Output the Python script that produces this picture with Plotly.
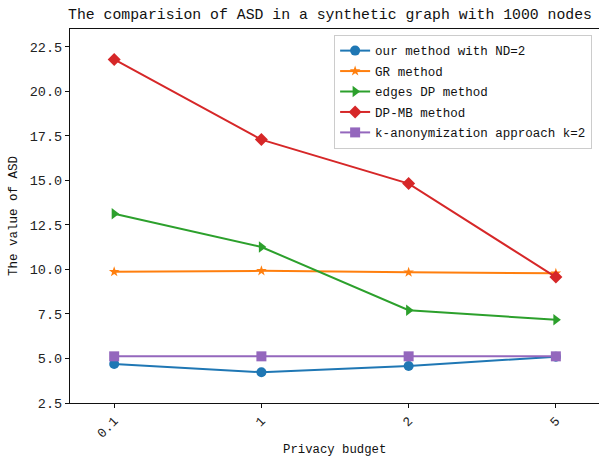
import plotly.graph_objects as go

# Privacy budgets on the x axis (categorical)
budgets = ["0.1", "1", "2", "5"]

# ASD values per method
ours_nd2 = [4.69, 4.23, 4.58, 5.10]
gr_method = [9.87, 9.92, 9.84, 9.78]
edges_dp = [13.13, 11.26, 7.71, 7.17]
dp_mb = [21.79, 17.29, 14.82, 9.57]
k_anon = [5.12, 5.12, 5.12, 5.12]

y_ticks = [2.5, 5.0, 7.5, 10.0, 12.5, 15.0, 17.5, 20.0, 22.5]
y_tick_text = ["2.5", "5.0", "7.5", "10.0", "12.5", "15.0", "17.5", "20.0", "22.5"]

MONO = "Liberation Mono, DejaVu Sans Mono, monospace"

series = [
    ("our method with ND=2", ours_nd2, "#1f77b4", "circle", 10),
    ("GR method", gr_method, "#ff7f0e", "star", 8),
    ("edges DP method", edges_dp, "#2ca02c", "triangle-right", 10),
    ("DP-MB method", dp_mb, "#d62728", "diamond", 10),
    ("k-anonymization approach k=2", k_anon, "#9467bd", "square", 10),
]

fig = go.Figure()
for i, (name, vals, color, sym, size) in enumerate(series):
    fig.add_trace(go.Scatter(
        x=budgets, y=vals, name=name, mode="lines+markers",
        legendgroup=f"g{i}",
        line=dict(color=color, width=2),
        marker=dict(symbol=sym, size=size, color=color),
    ))

fig.update_layout(
    width=599, height=461,
    margin=dict(l=70, r=0, t=29, b=58),
    plot_bgcolor="white", paper_bgcolor="white",
    font=dict(family=MONO, size=13, color="#222"),
    title=dict(
        text="The comparision of ASD in a synthetic graph with 1000 nodes",
        x=330 / 599, xanchor="center", y=1 - 14 / 461, yanchor="middle",
        font=dict(family=MONO, size=14.8, color="#111"),
    ),
    xaxis=dict(
        type="category", range=[-0.3, 3.293],
        showline=True, linecolor="#111", linewidth=1.3, mirror=True,
        ticks="outside", ticklen=4, tickcolor="#111", tickangle=-45,
        showgrid=False, zeroline=False,
        tickfont=dict(family=MONO, size=13, color="#222"),
    ),
    yaxis=dict(
        range=[2.5, 23.5], tickvals=y_ticks, ticktext=y_tick_text,
        showline=True, linecolor="#111", linewidth=1.3, mirror=False,
        ticks="outside", ticklen=4, tickcolor="#111",
        showgrid=False, zeroline=False,
        tickfont=dict(family=MONO, size=13.5, color="#222"),
    ),
    legend=dict(
        x=0.987, xanchor="right", y=0.984, yanchor="top",
        tracegroupgap=1.2,
        bgcolor="rgba(255,255,255,0.8)", bordercolor="#cccccc", borderwidth=1,
        font=dict(family=MONO, size=12.5, color="#111"),
    ),
    showlegend=True,
    annotations=[
        dict(text="Privacy budget", xref="paper", yref="paper", x=0.5, y=0,
             xanchor="center", yanchor="middle", yshift=-47, showarrow=False,
             font=dict(family=MONO, size=12.3, color="#111")),
        dict(text="The value of ASD", xref="paper", yref="paper", x=0, y=0.5,
             xanchor="center", yanchor="middle", xshift=-56, textangle=-90,
             showarrow=False, font=dict(family=MONO, size=12.5, color="#111")),
    ],
)

fig.write_html("out.html")
